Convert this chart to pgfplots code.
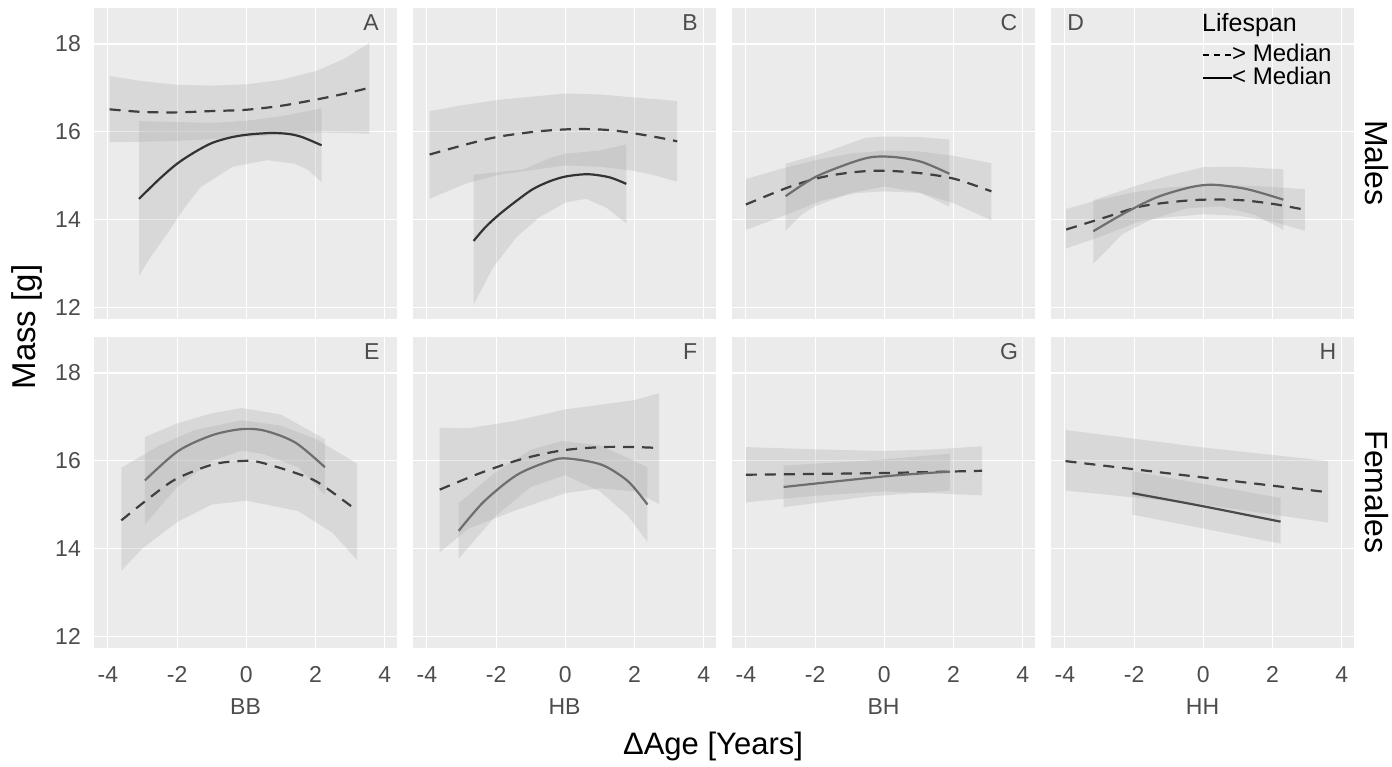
\documentclass[border=0pt]{standalone}
\usepackage{fontspec}
\setmainfont{Liberation Sans}
\usepackage{pgfplots}
\pgfplotsset{compat=1.18}
\definecolor{panelbg}{HTML}{EBEBEB}
\definecolor{tickgray}{HTML}{4D4D4D}
\definecolor{tickdark}{HTML}{333333}
\definecolor{bandgray}{HTML}{999999}
\definecolor{dashcol}{HTML}{3F3F3F}
\definecolor{soliddark}{HTML}{333333}
\definecolor{solidmid}{HTML}{6E6E6E}
\definecolor{solidh}{HTML}{4A4A4A}
\newcommand{\fs}[1]{\fontsize{#1}{#1}\selectfont}
\tikzset{letter/.style={font=\fs{23}, text=tickgray, anchor=center}}
\pgfplotsset{
  panel/.style={
    scale only axis, width=303pt, height=311pt,
    xmin=-4.4, xmax=4.35, ymin=11.73, ymax=18.82,
    axis background/.style={fill=panelbg},
    axis line style={draw=none},
    xmajorgrids, ymajorgrids,
    major grid style={white, line width=1.2pt},
    xtick={-4,-2,0,2,4}, ytick={12,14,16,18},
    xticklabels={}, yticklabels={},
    tick align=outside, major tick length=7pt,
    xtick pos=bottom, ytick pos=left,
    tick style={tickdark, line width=1pt},
    xtick style={draw=none}, ytick style={draw=none},
    anchor=south west, clip=false,
  },
  xlab/.style={
    xticklabels={{-4},{-2},{0},{2},{4}},
    xtick style={tickdark, line width=1pt},
    xticklabel style={font=\fs{23}, text=tickgray, inner sep=0pt, anchor=north, yshift=-11pt},
    xlabel style={font=\fs{23}, text=tickgray, at={(axis description cs:0.5,0)}, anchor=center, yshift=-59pt, inner sep=0pt},
  },
  ylab/.style={
    yticklabels={{12},{14},{16},{18}},
    ytick style={tickdark, line width=1pt},
    yticklabel style={font=\fs{23}, text=tickgray, inner sep=0pt, anchor=east, xshift=-6pt},
  },
  band/.style={draw=none, fill=bandgray, fill opacity=0.22, forget plot},
  dline/.style={dashcol, line width=2.2pt, dash pattern=on 11pt off 8pt, smooth, tension=0.5},
  sline/.style={#1, line width=2.2pt, smooth, tension=0.5},
}
\begin{document}
\begin{tikzpicture}
\useasboundingbox (0pt,0pt) rectangle (1392pt,767pt);
% ---------------- A ----------------
\begin{axis}[panel, ylab, at={(94pt,448pt)}]
\addplot[band] coordinates {(-3.95,17.27) (-3,17.15) (-2,17.07) (-1,17.05) (0,17.08) (1,17.18) (2,17.38) (2.8,17.65) (3.55,18.02) (3.55,15.95) (3,15.97) (2,15.98) (1,15.93) (0,15.88) (-1,15.83) (-2,15.79) (-3,15.77) (-3.95,15.76)} -- cycle;
\addplot[band] coordinates {(-3.1,16.24) (-2,16.22) (-1,16.2) (0,16.25) (1,16.35) (2.17,16.53) (2.17,14.85) (1.8,15.12) (1.4,15.27) (0.6,15.35) (-0.4,15.2) (-1.33,14.73) (-1.8,14.25) (-2.3,13.66) (-2.8,13.1) (-3.1,12.71)} -- cycle;
\addplot[dline] coordinates {(-3.95,16.51) (-3,16.45) (-2,16.44) (-1,16.47) (0,16.50) (1,16.59) (2,16.73) (2.8,16.86) (3.55,17.0)};
\addplot[sline=soliddark] coordinates {(-3.1,14.47) (-2.5,14.93) (-2,15.27) (-1.5,15.53) (-1,15.74) (-0.5,15.86) (0,15.93) (0.7,15.97) (1.2,15.95) (1.6,15.88) (2.17,15.69)};
\node[letter] at (axis cs:3.6,18.49) {A};
\end{axis}
% ---------------- B ----------------
\begin{axis}[panel, at={(413pt,448pt)}]
\addplot[band] coordinates {(-3.92,16.47) (-3,16.6) (-1.9,16.73) (0,16.87) (1,16.85) (2,16.78) (3.23,16.70) (3.23,14.86) (2.5,15.02) (1.95,15.11) (1,15.2) (0,15.23) (-1,15.12) (-1.9,15.02) (-2.86,14.82) (-3.92,14.47)} -- cycle;
\addplot[band] coordinates {(-2.65,15.02) (-1.2,15.14) (-0.45,15.4) (0.02,15.5) (0.99,15.57) (1.76,15.71) (1.76,13.91) (1.18,14.27) (0.6,14.47) (0.02,14.39) (-0.75,14.05) (-1.42,13.59) (-2.09,12.9) (-2.65,12.06)} -- cycle;
\addplot[dline] coordinates {(-3.92,15.48) (-2.72,15.74) (-1.9,15.89) (-0.75,16.01) (0.31,16.06) (1.37,16.03) (2.53,15.89) (3.23,15.78)};
\addplot[sline=soliddark] coordinates {(-2.65,13.51) (-2.3,13.83) (-1.9,14.12) (-1.4,14.43) (-0.94,14.69) (-0.45,14.87) (0.02,14.98) (0.65,15.03) (1.27,14.96) (1.76,14.81)};
\node[letter] at (axis cs:3.6,18.49) {B};
\end{axis}
% ---------------- C ----------------
\begin{axis}[panel, at={(732pt,448pt)}]
\addplot[band] coordinates {(-4,14.92) (-3,15.15) (-2,15.35) (-1,15.5) (0,15.57) (1,15.55) (2,15.45) (3.09,15.28) (3.09,13.98) (2.05,14.35) (1.08,14.6) (0.02,14.64) (-0.8,14.6) (-1.82,14.43) (-2.78,14.12) (-4,13.76)} -- cycle;
\addplot[band] coordinates {(-2.85,15.27) (-1.82,15.5) (-0.55,15.86) (0,15.89) (1,15.88) (1.88,15.82) (1.88,14.29) (1,14.62) (0,14.75) (-1,14.6) (-2,14.3) (-2.4,14.1) (-2.85,13.74)} -- cycle;
\addplot[dline] coordinates {(-4,14.34) (-2.78,14.73) (-1.82,14.96) (-0.85,15.08) (0.02,15.11) (1.08,15.05) (2.05,14.92) (3.09,14.64)};
\addplot[sline=solidmid] coordinates {(-2.85,14.53) (-2.01,14.96) (-1.04,15.27) (-0.37,15.42) (0.31,15.42) (1.08,15.31) (1.88,15.04)};
\node[letter] at (axis cs:3.6,18.49) {C};
\end{axis}
% ---------------- D ----------------
\begin{axis}[panel, at={(1051pt,448pt)}]
\addplot[band] coordinates {(-3.96,14.24) (-3,14.45) (-2,14.62) (-1,14.73) (0,14.78) (1,14.78) (2,14.74) (2.93,14.69) (2.93,13.74) (2,13.95) (1.07,14.08) (0,14.12) (-1,14.05) (-1.84,13.96) (-3,13.6) (-3.96,13.34)} -- cycle;
\addplot[band] coordinates {(-3.18,14.44) (-2,14.75) (-1,15.0) (0,15.19) (1,15.2) (2.31,15.14) (2.31,13.76) (1.5,14.1) (0.5,14.3) (-0.5,14.25) (-1.5,14.0) (-2.33,13.67) (-3.18,12.99)} -- cycle;
\addplot[dline] coordinates {(-3.96,13.77) (-2.82,14.05) (-1.84,14.29) (-0.87,14.40) (0,14.45) (1.07,14.44) (2.04,14.35) (2.93,14.22)};
\addplot[sline=solidmid] coordinates {(-3.18,13.73) (-2.33,14.12) (-1.36,14.5) (-0.39,14.73) (0.29,14.79) (1.26,14.69) (2.31,14.45)};
\node[letter] at (axis cs:-3.69,18.49) {D};
\end{axis}
% ---------------- E ----------------
\begin{axis}[panel, xlab, ylab, xlabel={BB}, at={(94pt,119pt)}]
\addplot[band] coordinates {(-3.61,15.84) (-2.5,16.35) (-1.5,16.7) (-0.13,16.92) (1,16.8) (2,16.5) (3.2,15.93) (3.2,13.73) (2.5,14.35) (1.5,14.85) (0,15.09) (-1,15.0) (-2,14.6) (-3,14.0) (-3.61,13.49)} -- cycle;
\addplot[band] coordinates {(-2.93,16.54) (-2,16.85) (-1,17.08) (-0.13,17.2) (1,17.05) (2.27,16.49) (2.27,15.22) (1.5,15.85) (0.5,16.15) (-0.13,16.23) (-1,16.0) (-2,15.4) (-2.93,14.55)} -- cycle;
\addplot[dline] coordinates {(-3.61,14.64) (-2.93,15.07) (-2.06,15.57) (-0.99,15.91) (-0.22,15.99) (0.36,15.97) (1.42,15.72) (2.1,15.49) (3.2,14.86)};
\addplot[sline=solidmid] coordinates {(-2.93,15.55) (-1.97,16.22) (-0.99,16.58) (-0.13,16.72) (0.55,16.68) (1.42,16.41) (2.27,15.85)};
\node[letter] at (axis cs:3.62,18.49) {E};
\end{axis}
% ---------------- F ----------------
\begin{axis}[panel, xlab, xlabel={HB}, at={(413pt,119pt)}]
\addplot[band] coordinates {(-3.63,16.75) (-2.8,16.74) (-1.5,16.9) (0,17.17) (2.0,17.38) (2.71,17.54) (2.71,15.01) (2,15.3) (1,15.37) (0,15.26) (-1.5,14.85) (-2.8,14.45) (-3.63,13.91)} -- cycle;
\addplot[band] coordinates {(-3.08,15.03) (-2,15.75) (-1,16.25) (-0.1,16.45) (1,16.35) (2.37,15.85) (2.37,14.15) (1.8,14.75) (1,15.3) (0,15.67) (-1,15.4) (-2,14.75) (-3.08,13.77)} -- cycle;
\addplot[dline] coordinates {(-3.63,15.34) (-2.45,15.72) (-1.29,16.03) (-0.13,16.23) (1.04,16.31) (2.0,16.31) (2.71,16.29)};
\addplot[sline=solidmid] coordinates {(-3.08,14.4) (-2.35,15.07) (-1.39,15.68) (-0.42,16.0) (0.07,16.05) (1.04,15.91) (1.81,15.53) (2.37,15.0)};
\node[letter] at (axis cs:3.6,18.49) {F};
\end{axis}
% ---------------- G ----------------
\begin{axis}[panel, xlab, xlabel={BH}, at={(732pt,119pt)}]
\addplot[band] coordinates {(-4,16.31) (-2,16.26) (0,16.22) (1.5,16.26) (2.82,16.33) (2.82,15.21) (1,15.27) (0,15.3) (-2,15.2) (-4,15.05)} -- cycle;
\addplot[band] coordinates {(-2.91,15.89) (-0.5,16.0) (1.89,16.16) (1.89,15.32) (-0.5,15.18) (-2.91,14.94)} -- cycle;
\addplot[dline] coordinates {(-4,15.68) (-1.84,15.7) (0.1,15.72) (2.82,15.77)};
\addplot[sline=solidmid] coordinates {(-2.91,15.40) (0.1,15.65) (1.89,15.75)};
\node[letter] at (axis cs:3.6,18.49) {G};
\end{axis}
% ---------------- H ----------------
\begin{axis}[panel, xlab, xlabel={HH}, at={(1051pt,119pt)}]
\addplot[band] coordinates {(-3.98,16.70) (0,16.3) (3.07,16.04) (3.6,15.99) (3.6,14.59) (0,15.0) (-3.98,15.32)} -- cycle;
\addplot[band] coordinates {(-2.05,15.76) (2.23,15.15) (2.23,14.11) (-2.05,14.77)} -- cycle;
\addplot[dline] coordinates {(-3.98,15.99) (3.6,15.28)};
\addplot[sline=solidh] coordinates {(-2.05,15.26) (0,14.96) (2.23,14.61)};
\node[letter] at (axis cs:3.6,18.49) {H};
\end{axis}
% ---------------- titles ----------------
\node[font=\fs{31}, anchor=center] at (713pt,21pt) {ΔAge [Years]};
\node[font=\fs{33}, rotate=90, anchor=center] at (27pt,440pt) {Mass [g]};
\node[font=\fs{32}, rotate=-90, anchor=center] at (1377pt,604pt) {Males};
\node[font=\fs{32}, rotate=-90, anchor=center] at (1377pt,275pt) {Females};
% ---------------- legend ----------------
\node[font=\fs{25}, anchor=base west, inner sep=0pt] at (1202pt,735pt) {Lifespan};
\draw[black, line width=1.4pt, dash pattern=on 6pt off 5pt] (1203pt,712pt) -- (1232pt,712pt);
\node[font=\fs{24}, anchor=base west, inner sep=0pt] at (1232pt,705pt) {> Median};
\draw[black, line width=1.4pt] (1203pt,689pt) -- (1232pt,689pt);
\node[font=\fs{24}, anchor=base west, inner sep=0pt] at (1232pt,682pt) {< Median};
\end{tikzpicture}
\end{document}
